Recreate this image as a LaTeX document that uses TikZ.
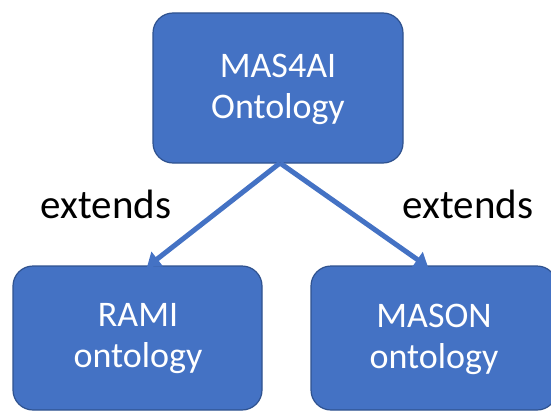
\documentclass[tikz,border=0pt]{standalone}
\usepackage{fontspec}
\setmainfont{Carlito}
\usetikzlibrary{arrows.meta}
\definecolor{boxfill}{HTML}{4472C4}
\definecolor{boxline}{HTML}{2F528F}
\begin{document}
\begin{tikzpicture}[x=1pt,y=-1pt,
  box/.style={draw=boxline,line width=1.2pt,fill=boxfill,rounded corners=20pt},
  boxtext/.style={text=white,font=\fontsize{36}{41}\selectfont,align=center},
  lbl/.style={text=black,font=\fontsize{41}{46}\selectfont},
  link/.style={draw=boxfill,line width=5pt,-{Triangle[length=13pt,width=18pt]}}]
\useasboundingbox (0,0) rectangle (551,412);
\begin{scope}
\clip (0,0) rectangle (551,412);
\draw[box] (153,13) rectangle (403,163);
\draw[box] (13,266) rectangle (262,410);
\draw[box] (311,266) rectangle (557,410);
\end{scope}
\node[boxtext] (top) at (278,89) {MAS4AI\\Ontology};
\node[boxtext] (rami) at (138,339) {RAMI\\ontology};
\node[boxtext] (mason) at (434,339) {MASON\\ontology};
\coordinate (src) at (280,163);
\coordinate (lt) at (147,267);
\coordinate (rt) at (428,267);
\draw[link] (src) -- (lt);
\draw[link] (src) -- (rt);
\node[lbl] (el) at (106,204) {extends};
\node[lbl] (er) at (468,204) {extends};
\end{tikzpicture}
\end{document}
